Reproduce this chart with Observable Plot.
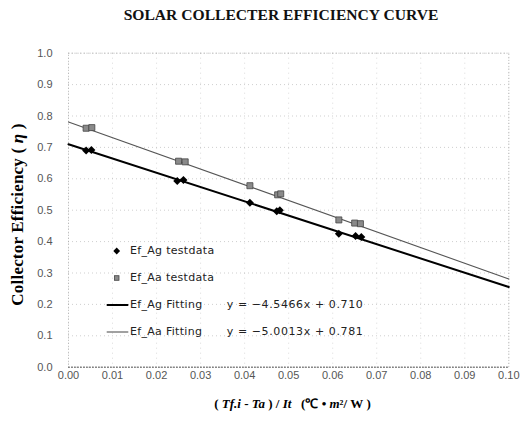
<!DOCTYPE html>
<html><head><meta charset="utf-8">
<script src="https://cdn.jsdelivr.net/npm/d3@7"></script>
<script src="https://cdn.jsdelivr.net/npm/@observablehq/plot@0.6"></script>
<style>
body{margin:0;background:#fff;}
#wrap{position:relative;width:521px;height:422px;overflow:hidden;}
#title{height:30px;line-height:30px;padding-left:41px;box-sizing:border-box;width:521px;text-align:center;font-family:"Liberation Serif";font-weight:bold;font-size:15.6px;color:#111;}
.lg{position:absolute;font-family:"DejaVu Sans";font-size:11px;letter-spacing:0.3px;color:#222;height:14px;line-height:14px;white-space:pre;}
.sym{position:absolute;}
</style></head>
<body><div id="wrap"><div id="title">SOLAR COLLECTER EFFICIENCY CURVE</div><div id="chart"></div><div id="legend"></div></div>
<script>
// Ef_Ag test data
const agX = [0.0040, 0.0052, 0.0247, 0.0261, 0.0412, 0.0473, 0.0480, 0.0614, 0.0652, 0.0665];
const agY = [0.690, 0.692, 0.593, 0.596, 0.524, 0.497, 0.500, 0.425, 0.418, 0.415];
// Ef_Aa test data
const aaX = [0.0040, 0.0053, 0.0250, 0.0265, 0.0412, 0.0475, 0.0482, 0.0614, 0.0650, 0.0663];
const aaY = [0.761, 0.763, 0.656, 0.654, 0.578, 0.549, 0.552, 0.469, 0.459, 0.457];
// fitting lines (end points of the fitted equations)
const fitX = [0, 0.1];
const agFitY = [0.710, 0.2553];
const aaFitY = [0.781, 0.2809];
// ticks
const xTicks = [0, 0.01, 0.02, 0.03, 0.04, 0.05, 0.06, 0.07, 0.08, 0.09, 0.10];
const yTicks = [0, 0.1, 0.2, 0.3, 0.4, 0.5, 0.6, 0.7, 0.8, 0.9, 1.0];
// legend
const legendNames = ["Ef_Ag testdata", "Ef_Aa testdata", "Ef_Ag Fitting", "Ef_Aa Fitting"];
const equations = ["", "", "y = \u22124.5466x + 0.710", "y = \u22125.0013x + 0.781"];

const ag = agX.map((x, i) => ({x, y: agY[i]}));
const aa = aaX.map((x, i) => ({x, y: aaY[i]}));
const agFit = fitX.map((x, i) => ({x, y: agFitY[i]}));
const aaFit = fitX.map((x, i) => ({x, y: aaFitY[i]}));

const plot = Plot.plot({
  width: 521, height: 392,
  marginLeft: 68, marginRight: 12.7, marginTop: 22.7, marginBottom: 55.3,
  x: {domain: [0, 0.1]},
  y: {domain: [0, 1]},
  style: {fontFamily: "Liberation Sans", fontSize: "11px", color: "#555", background: "#fff"},
  marks: [
    Plot.gridY(yTicks, {stroke: "#888", strokeOpacity: 0.4, strokeDasharray: "1,3"}),
    Plot.gridX(xTicks, {stroke: "#888", strokeOpacity: 0.3, strokeDasharray: "1,4"}),
    Plot.frame({stroke: "#999", strokeOpacity: 0.7, strokeDasharray: "1,2"}),
    Plot.ruleY([0], {stroke: "#666", strokeDasharray: "2,1"}),
    Plot.axisX(xTicks, {tickSize: 0, tickPadding: 4, tickFormat: d => d.toFixed(2), label: null}),
    Plot.axisY(yTicks, {tickSize: 0, tickPadding: 16, tickFormat: d => d.toFixed(1), label: null}),
    Plot.line(aaFit, {x: "x", y: "y", stroke: "#555", strokeWidth: 1.1}),
    Plot.line(agFit, {x: "x", y: "y", stroke: "#000", strokeWidth: 2}),
    Plot.dot(aa, {x: "x", y: "y", symbol: "square", r: 3.4, fill: "#8a8a8a", stroke: "#444", strokeWidth: 0.8}),
    Plot.dot(ag, {x: "x", y: "y", symbol: "diamond2", r: 3.6, fill: "#000"}),
    Plot.text(["Collector Efficiency ( \u03b7 )"], {frameAnchor: "left", dx: -50.5, dy: 4.3, rotate: -90, textAnchor: "middle", lineAnchor: "middle", fontFamily: "Liberation Serif", fontWeight: "bold", fontSize: 17, fill: "#000", className: "ylab"}),
    Plot.text(["( Tf.i - Ta ) / It   (\u2103 \u2022 m\u00b2/ W )"], {frameAnchor: "bottom", dx: 3.9, dy: 36.3, textAnchor: "middle", lineAnchor: "middle", fontFamily: "Liberation Serif", fontWeight: "bold", fontSize: 13, fill: "#000", className: "xlab"})
  ]
});
document.getElementById("chart").appendChild(plot);

// rich text styling for axis titles
const xl = d3.select(plot).select("g.xlab text");
if (!xl.empty()) {
  xl.text(null);
  const parts = [["(\u00a0", false], ["Tf.i", true], ["\u00a0-\u00a0", false], ["Ta", true], ["\u00a0)\u00a0/\u00a0", false], ["It", true], ["\u00a0\u00a0\u00a0(\u2103\u00a0\u2022\u00a0", false], ["m", true], ["\u00b2/\u00a0W\u00a0)", false]];
  parts.forEach(([t, it]) => xl.append("tspan").attr("font-style", it ? "italic" : null).text(t));
}
const yl = d3.select(plot).select("g.ylab text");
if (!yl.empty()) {
  yl.text(null).attr("letter-spacing", "0.2px");
  [["Collector Efficiency (\u00a0", false], ["\u03b7", true], ["\u00a0)", false]].forEach(([t, it]) => yl.append("tspan").attr("font-style", it ? "italic" : null).text(t));
}

// legend (page coordinates)
const rowsY = [251, 277.7, 305, 331.7];
const lg = document.getElementById("legend");
legendNames.forEach((name, i) => {
  const y = rowsY[i];
  const t = document.createElement("div");
  t.className = "lg"; t.style.left = "130px"; t.style.top = (y - 7) + "px"; t.textContent = name;
  lg.appendChild(t);
  if (equations[i]) {
    const e = document.createElement("div");
    e.className = "lg"; e.style.left = "226.7px"; e.style.top = (y - 7) + "px"; e.style.letterSpacing = "0.6px"; e.textContent = equations[i];
    lg.appendChild(e);
  }
  const s = document.createElementNS("http://www.w3.org/2000/svg", "svg");
  s.setAttribute("class", "sym");
  s.setAttribute("width", 24); s.setAttribute("height", 10);
  s.style.left = "105px"; s.style.top = (y - 5) + "px";
  let inner = "";
  if (i === 0) inner = '<path d="M11.7,1.6L15.1,5L11.7,8.4L8.3,5Z" fill="#000"/>';
  if (i === 1) inner = '<rect x="9.4" y="2.7" width="4.6" height="4.6" fill="#8a8a8a" stroke="#444" stroke-width="0.8"/>';
  if (i === 2) inner = '<line x1="1.7" y1="5" x2="23.3" y2="5" stroke="#000" stroke-width="2"/>';
  if (i === 3) inner = '<line x1="1.7" y1="5" x2="23.3" y2="5" stroke="#555" stroke-width="1.1"/>';
  s.innerHTML = inner;
  lg.appendChild(s);
});
</script>
</body></html>
